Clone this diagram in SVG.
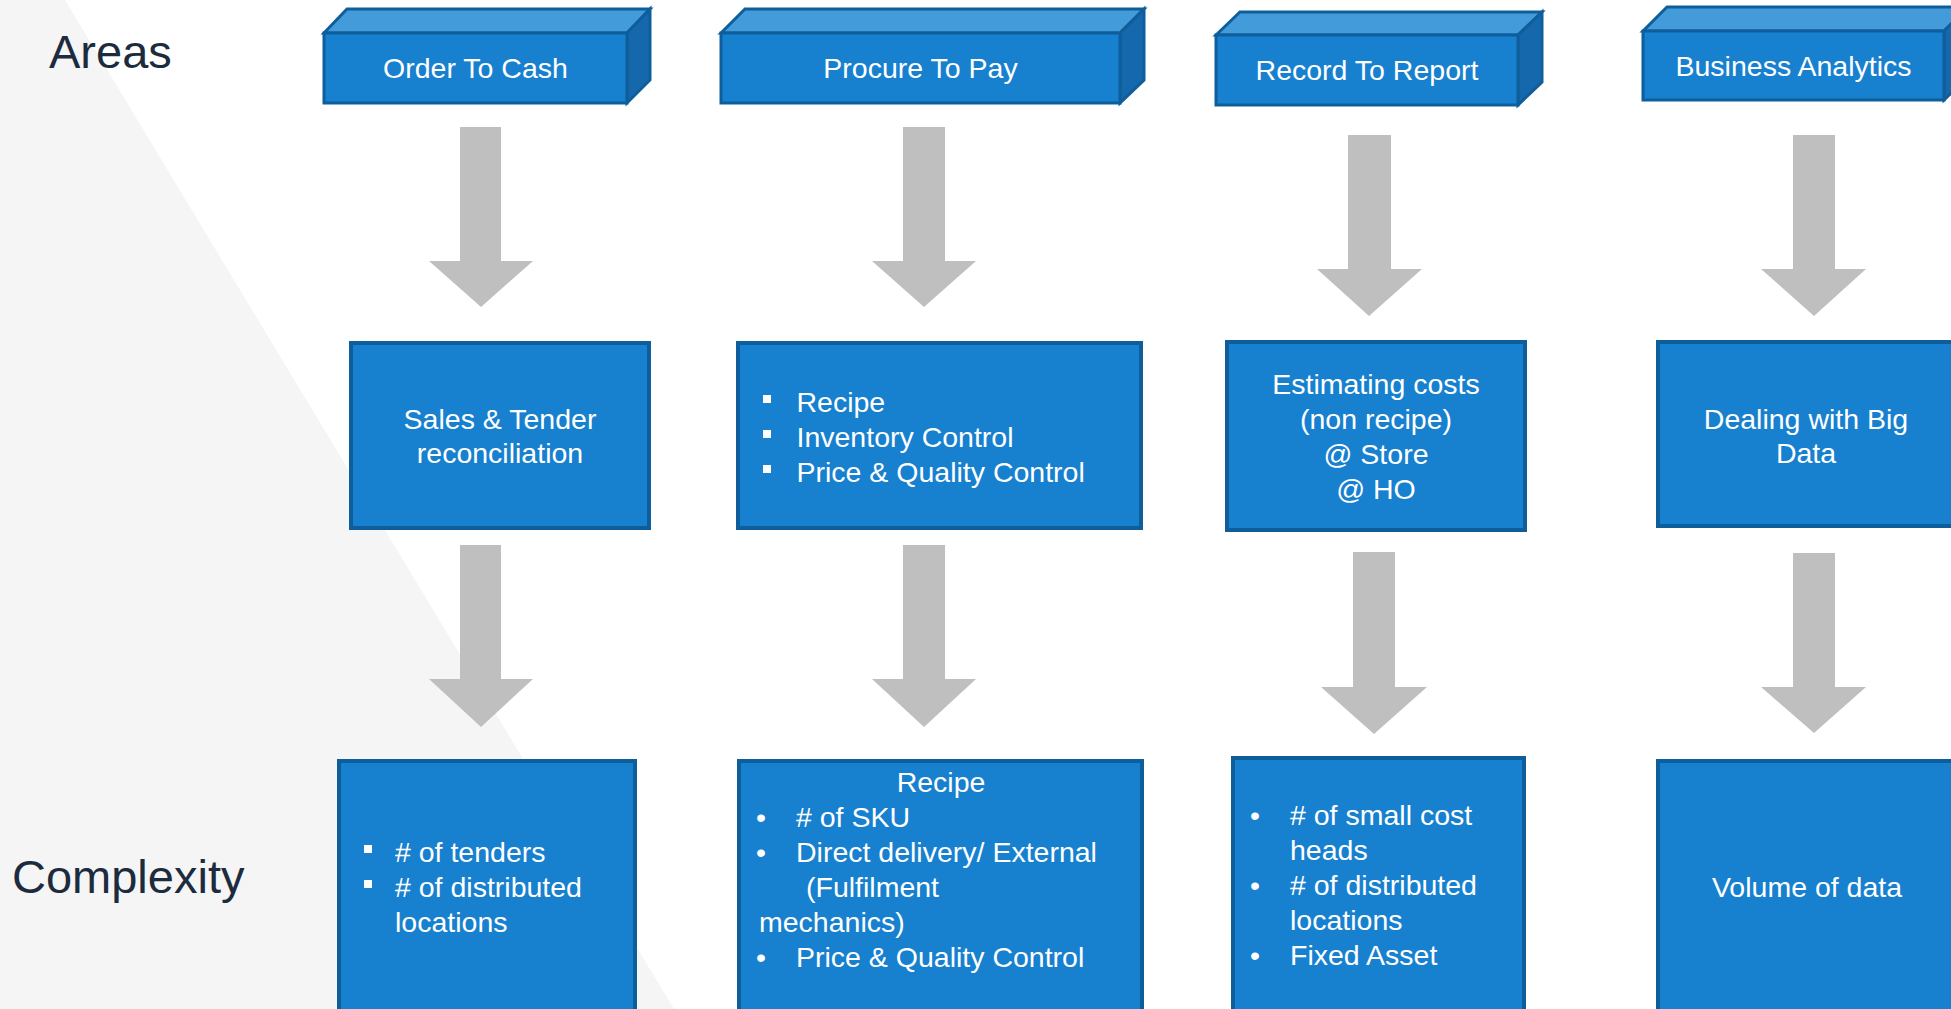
<svg xmlns="http://www.w3.org/2000/svg" width="1951" height="1009" viewBox="0 0 1951 1009">
<style>
  .front { fill: #1780cf; stroke: #0f5e9c; stroke-width: 3; stroke-linejoin: miter; }
  .top { fill: #439bd9; stroke: #0f5e9c; stroke-width: 3; }
  .side { fill: #1468ab; stroke: #0f5e9c; stroke-width: 3; }
  .box { fill: #1780cf; stroke: #0f5e9c; stroke-width: 4; }
  .arrow { fill: #bfbfbf; }
  .t { font-family: "Liberation Sans", Arial, sans-serif; font-size: 28.5px; fill: #ffffff; }
  .c { text-anchor: middle; }
  .sq { fill: #ffffff; }
  .side-label { font-family: "Liberation Sans", Arial, sans-serif; font-size: 47px; fill: #1c2b3e; }
</style>
<rect x="0" y="0" width="1951" height="1009" fill="#ffffff"/>
<polygon points="0,0 65,0 674,1009 0,1009" fill="#f5f5f5"/>

<text class="side-label" x="49" y="68">Areas</text>
<text class="side-label" x="12" y="893">Complexity</text>

<g id="connectors">
  <polygon class="arrow" points="460,127 501,127 501,261 533,261 481,307 429,261 460,261"/>
  <polygon class="arrow" points="460,545 501,545 501,679 533,679 481,727 429,679 460,679"/>
  <polygon class="arrow" points="903,127 945,127 945,261 976,261 924,307 872,261 903,261"/>
  <polygon class="arrow" points="903,545 945,545 945,679 976,679 924,727 872,679 903,679"/>
  <polygon class="arrow" points="1348,135 1391,135 1391,269 1422,269 1369,316 1317,269 1348,269"/>
  <polygon class="arrow" points="1353,552 1395,552 1395,687 1427,687 1374,734 1321,687 1353,687"/>
  <polygon class="arrow" points="1793,135 1835,135 1835,269 1866,269 1814,316 1761,269 1793,269"/>
  <polygon class="arrow" points="1793,553 1835,553 1835,687 1866,687 1814,733 1761,687 1793,687"/>
</g>

<g id="area-otc">
  <polygon class="top" points="324,33 347,9 650,9 627,33"/>
  <polygon class="side" points="627,33 650,9 650,80 627,103"/>
  <rect class="front" x="324" y="33" width="303" height="70"/>
  <text class="t c" x="475.5" y="78">Order To Cash</text>
</g>
<g id="area-p2p">
  <polygon class="top" points="721,33 745,9 1144,9 1120,33"/>
  <polygon class="side" points="1120,33 1144,9 1144,80 1120,103"/>
  <rect class="front" x="721" y="33" width="399" height="70"/>
  <text class="t c" x="920.5" y="78">Procure To Pay</text>
</g>
<g id="area-r2r">
  <polygon class="top" points="1216,35 1240,12 1542,12 1518,35"/>
  <polygon class="side" points="1518,35 1542,12 1542,82 1518,105"/>
  <rect class="front" x="1216" y="35" width="302" height="70"/>
  <text class="t c" x="1367" y="80">Record To Report</text>
</g>
<g id="area-ba">
  <polygon class="top" points="1643,31 1667,7 1968,7 1944,31"/>
  <polygon class="side" points="1944,31 1968,7 1968,77 1944,100"/>
  <rect class="front" x="1643" y="31" width="301" height="69"/>
  <text class="t c" x="1793.5" y="76">Business Analytics</text>
</g>

<g id="mid-otc">
  <rect class="box" x="351" y="343" width="298" height="185"/>
  <text class="t c" x="500" y="429">Sales &amp; Tender</text>
  <text class="t c" x="500" y="463">reconciliation</text>
</g>
<g id="mid-p2p">
  <rect class="box" x="738" y="343" width="403" height="185"/>
  <rect class="sq" x="763" y="395" width="8" height="8"/>
  <text class="t" x="796.5" y="412">Recipe</text>
  <rect class="sq" x="763" y="430" width="8" height="8"/>
  <text class="t" x="796.5" y="447">Inventory Control</text>
  <rect class="sq" x="763" y="465" width="8" height="8"/>
  <text class="t" x="796.5" y="482">Price &amp; Quality Control</text>
</g>
<g id="mid-r2r">
  <rect class="box" x="1227" y="342" width="298" height="188"/>
  <text class="t c" x="1376" y="394">Estimating costs</text>
  <text class="t c" x="1376" y="429">(non recipe)</text>
  <text class="t c" x="1376" y="464">@ Store</text>
  <text class="t c" x="1376" y="499">@ HO</text>
</g>
<g id="mid-ba">
  <rect class="box" x="1658" y="342" width="300" height="184"/>
  <text class="t c" x="1806" y="429">Dealing with Big</text>
  <text class="t c" x="1806" y="463">Data</text>
</g>

<g id="cx-otc">
  <rect class="box" x="339" y="761" width="296" height="260"/>
  <rect class="sq" x="364" y="845" width="8" height="8"/>
  <text class="t" x="395" y="862"># of tenders</text>
  <rect class="sq" x="364" y="880" width="8" height="8"/>
  <text class="t" x="395" y="897"># of distributed</text>
  <text class="t" x="395" y="932">locations</text>
</g>
<g id="cx-p2p">
  <rect class="box" x="739" y="761" width="403" height="260"/>
  <text class="t c" x="941" y="792">Recipe</text>
  <text class="t" x="756" y="827">•</text>
  <text class="t" x="796" y="827"># of SKU</text>
  <text class="t" x="756" y="862">•</text>
  <text class="t" x="796" y="862">Direct delivery/ External</text>
  <text class="t" x="806" y="897">(Fulfilment</text>
  <text class="t" x="759" y="932">mechanics)</text>
  <text class="t" x="756" y="967">•</text>
  <text class="t" x="796" y="967">Price &amp; Quality Control</text>
</g>
<g id="cx-r2r">
  <rect class="box" x="1233" y="758" width="291" height="263"/>
  <text class="t" x="1250" y="825">•</text>
  <text class="t" x="1290" y="825"># of small cost</text>
  <text class="t" x="1290" y="860">heads</text>
  <text class="t" x="1250" y="895">•</text>
  <text class="t" x="1290" y="895"># of distributed</text>
  <text class="t" x="1290" y="930">locations</text>
  <text class="t" x="1250" y="965">•</text>
  <text class="t" x="1290" y="965">Fixed Asset</text>
</g>
<g id="cx-ba">
  <rect class="box" x="1658" y="761" width="300" height="260"/>
  <text class="t c" x="1807" y="897">Volume of data</text>
</g>
</svg>
